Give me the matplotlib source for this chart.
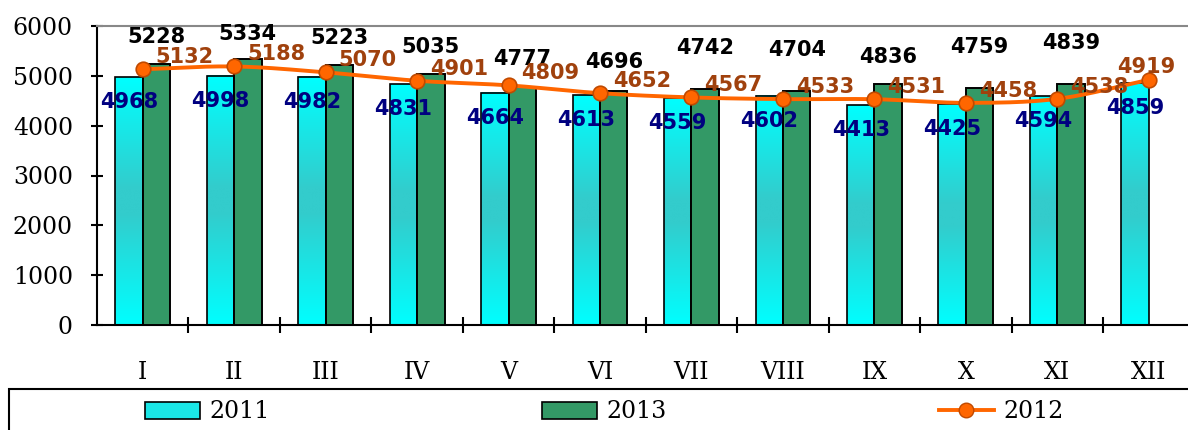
import numpy as np
import matplotlib
matplotlib.use("Agg")
import matplotlib.pyplot as plt
from matplotlib.colors import LinearSegmentedColormap
from matplotlib.patches import Rectangle
from matplotlib.lines import Line2D
from matplotlib.patches import Patch

months = ["I", "II", "III", "IV", "V", "VI", "VII", "VIII", "IX", "X", "XI", "XII"]
v2011 = [4968, 4998, 4982, 4831, 4664, 4613, 4559, 4602, 4413, 4425, 4594, 4859]
v2013 = [5228, 5334, 5223, 5035, 4777, 4696, 4742, 4704, 4836, 4759, 4839, None]
v2012 = [5132, 5188, 5070, 4901, 4809, 4652, 4567, 4533, 4531, 4458, 4538, 4919]
yticks = [0, 1000, 2000, 3000, 4000, 5000, 6000]

# label vertical offsets (px) for the 2013 labels
lbl13_dy = [27, 25, 27, 27, 27.5, 28.5, 41, 41, 27, 41, 41]

DPI = 100
W, H = 1188, 430
PT = 72.0 / DPI

serif = "DejaVu Serif"
sans = "DejaVu Sans"

fig = plt.figure(figsize=(W / DPI, H / DPI), dpi=DPI)
ax = fig.add_axes([97 / W, 1 - 325 / H, 1097.5 / W, 299 / H])

x = np.arange(len(months))
bw = 0.3
cyan_cmap = LinearSegmentedColormap.from_list(
    "cy", [(0, "#00FFFF"), (0.45, "#33CCCC"), (0.55, "#33CCCC"), (1, "#00FFFF")])

bars11 = ax.bar(x - bw / 2, v2011, width=bw, facecolor="none",
                edgecolor="black", linewidth=1.2, zorder=3)
grad = np.linspace(0, 1, 256).reshape(-1, 1)
for b in bars11:
    x0, w, h = b.get_x(), b.get_width(), b.get_height()
    ax.imshow(grad, cmap=cyan_cmap, aspect="auto", origin="lower",
              extent=(x0, x0 + w, 0, h), zorder=2, interpolation="bilinear")

idx13 = [i for i, v in enumerate(v2013) if v is not None]
vals13 = [v2013[i] for i in idx13]
bars13 = ax.bar(np.array(idx13) + bw / 2, vals13, width=bw, color="#339966",
                edgecolor="black", linewidth=1.4, zorder=3)

# smoothed 2012 line (Catmull-Rom)
xs = x.astype(float)
ys = np.array(v2012, dtype=float)
n = len(xs)
m = np.zeros(n)
m[1:-1] = (ys[2:] - ys[:-2]) / 2.0
m[0] = ys[1] - ys[0]
m[-1] = ys[-1] - ys[-2]
sx, sy = [], []
for i in range(n - 1):
    t = np.linspace(0, 1, 30)
    h00 = 2 * t**3 - 3 * t**2 + 1
    h10 = t**3 - 2 * t**2 + t
    h01 = -2 * t**3 + 3 * t**2
    h11 = t**3 - t**2
    sy.extend(h00 * ys[i] + h10 * m[i] + h01 * ys[i + 1] + h11 * m[i + 1])
    sx.extend(xs[i] + t)
ax.plot(sx, sy, color="#FF6600", linewidth=2.8, zorder=4, solid_capstyle="round")
ax.plot(xs, ys, linestyle="none", marker="o", markersize=10.5,
        markerfacecolor="#FF6600", markeredgecolor="#C04A00",
        markeredgewidth=1.2, zorder=5)

# data labels
for i, v in enumerate(v2011):
    ax.annotate(str(v), (i - bw / 2, v), xytext=(0, -25 * PT), textcoords="offset points",
                ha="center", va="center", fontsize=15, fontweight="bold",
                color="#000080", family=sans, zorder=6)
for k, i in enumerate(idx13):
    v = v2013[i]
    ax.annotate(str(v), (i + bw / 2, v), xytext=(0, lbl13_dy[k] * PT),
                textcoords="offset points", ha="center", va="center",
                fontsize=15, fontweight="bold", color="black", family=sans, zorder=6)
for i, v in enumerate(v2012):
    if i == n - 1:
        ax.annotate(str(v), (i, v), xytext=(-3 * PT, 13 * PT), textcoords="offset points",
                    ha="center", va="center", fontsize=15, fontweight="bold",
                    color="#A0410D", family=sans, zorder=6)
    else:
        ax.annotate(str(v), (i, v), xytext=(13 * PT, 12 * PT), textcoords="offset points",
                    ha="left", va="center", fontsize=15, fontweight="bold",
                    color="#A0410D", family=sans, zorder=6)

ax.set_xlim(-0.5, n - 0.5)
ax.set_ylim(0, 6000)
ax.set_yticks(yticks)
ax.set_yticklabels([str(t) for t in yticks], family=serif, fontsize=17)
ax.set_xticks(x)
ax.set_xticklabels(months, family=serif, fontsize=17)
ax.set_xticks(np.arange(n - 1) + 0.5, minor=True)
ax.tick_params(axis="x", which="major", length=0, pad=26)
ax.tick_params(axis="x", which="minor", direction="inout", length=16 * PT, width=1.5)
ax.tick_params(axis="y", which="major", direction="inout", length=12 * PT, width=1.5, pad=13)

ax.spines["right"].set_visible(False)
ax.spines["top"].set_color("#888888")
ax.spines["top"].set_linewidth(1.5)
ax.spines["left"].set_linewidth(1.5)
ax.spines["bottom"].set_linewidth(1.5)

# legend frame
fig.patches.append(Rectangle((9 / W, -0.1), 1.2, (1 - 389 / H) + 0.1, transform=fig.transFigure,
                             facecolor="none", edgecolor="black", linewidth=1.5))
handles = [
    Patch(facecolor="#1AE6E6", edgecolor="black", linewidth=1.2),
    Patch(facecolor="#339966", edgecolor="black", linewidth=1.2),
    Line2D([0], [0], color="#FF6600", linewidth=2.8, marker="o", markersize=10.5,
           markerfacecolor="#FF6600", markeredgecolor="#C04A00"),
]
leg = fig.legend(handles, ["2011", "2013", "2012"], ncol=3, frameon=False,
                 loc="center left", bbox_to_anchor=(145 / W, 1 - 412 / H),
                 prop={"family": serif, "size": 17}, handlelength=2.33,
                 handleheight=0.7, handletextpad=0.42, columnspacing=11.5,
                 borderpad=0, borderaxespad=0)

fig.savefig("out.png", dpi=DPI)
